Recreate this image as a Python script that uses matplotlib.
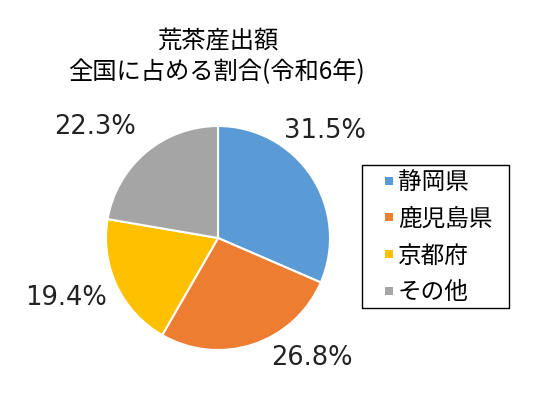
import numpy as np
import matplotlib
matplotlib.use('Agg')
import matplotlib.pyplot as plt
from matplotlib.lines import Line2D
from matplotlib.patches import Rectangle

plt.rcParams['font.family'] = ['Noto Sans CJK JP', 'DejaVu Sans']

prefs = ['静岡県', '鹿児島県', '京都府', 'その他']
shares = [31.5, 26.8, 19.4, 22.3]
colors = ['#5B9BD5', '#ED7D31', '#FFC000', '#A5A5A5']

# where each percentage sits (pie radius = 1)
label_pos = [(0.955, 0.955), (0.84, -1.07), (-1.36, -0.54), (-1.10, 0.99)]

W, H = 539, 405
fig = plt.figure(figsize=(W / 100, H / 100), dpi=100)

cx, cy, r = 218, 238, 112
ax = fig.add_axes([(cx - r) / W, (H - cy - r) / H, 2 * r / W, 2 * r / H])
ax.pie(shares, colors=colors, startangle=90, counterclock=False,
       wedgeprops=dict(edgecolor='white', linewidth=1.5))
ax.set_xlim(-1, 1)
ax.set_ylim(-1, 1)
ax.set_aspect('auto')
ax.axis('off')

for v, (x, y) in zip(shares, label_pos):
    ax.text(x, y, f'{v:.1f}%', ha='center', va='center', fontsize=18.5,
            family='DejaVu Sans', color='#222222', clip_on=False)

fig.text(218 / W, 1 - 41 / H, '荒茶産出額', ha='center', va='center', fontsize=17.5)
fig.text(216 / W, 1 - 72 / H, '全国に占める割合(令和6年)', ha='center', va='center',
         fontsize=17.5)

# legend frame drawn by hand
fig.patches.append(Rectangle((362 / W, 1 - 308 / H), 147 / W, 143 / H,
                             transform=fig.transFigure, fill=False,
                             edgecolor='black', linewidth=1))
handles = [Line2D([], [], ls='none', marker='s', markersize=6, color=c,
                  markeredgewidth=0) for c in colors]
leg = fig.legend(handles, prefs, loc='upper left',
                 bbox_to_anchor=(380 / W, 1 - 171 / H), fontsize=17,
                 frameon=False, handlelength=0.76, handletextpad=0.0,
                 labelspacing=0.58, borderpad=0, borderaxespad=0, numpoints=1)

fig.savefig('out.png', dpi=100)
